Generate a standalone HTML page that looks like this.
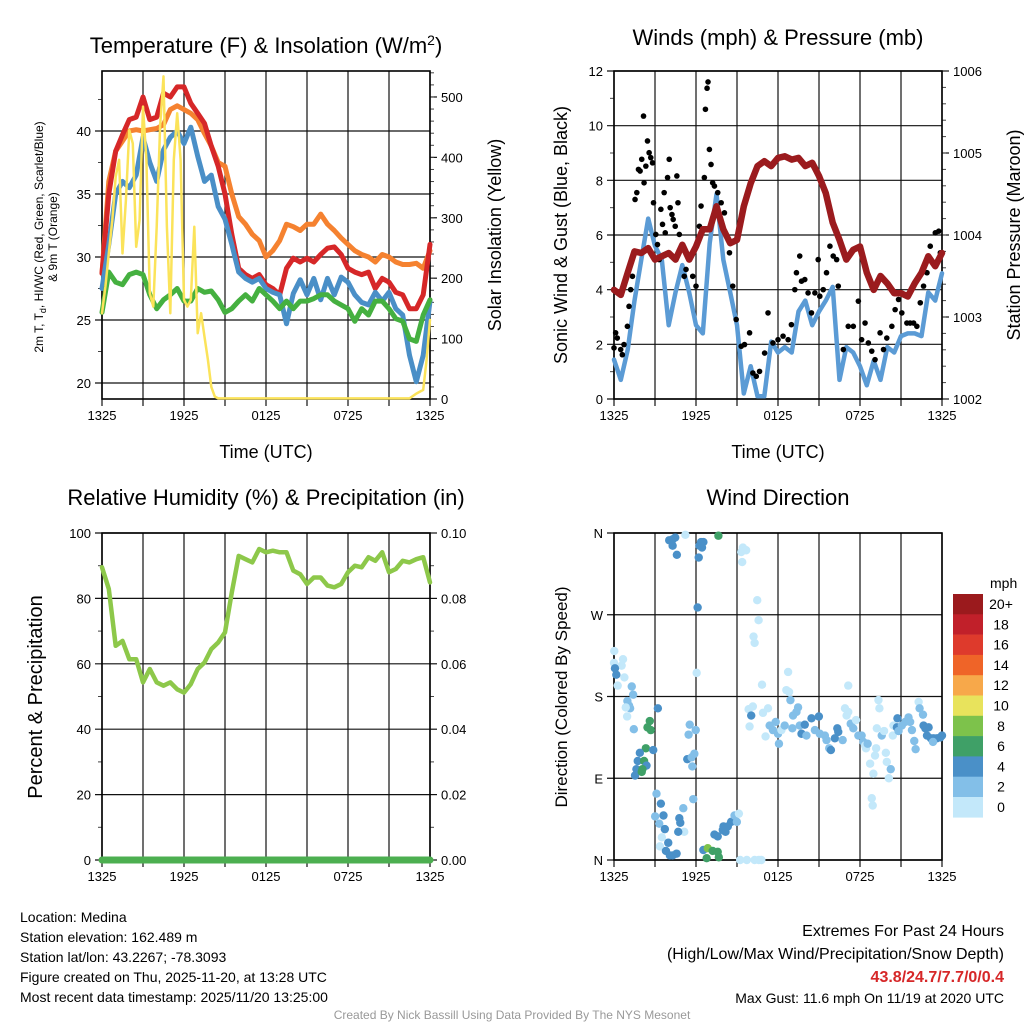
<!DOCTYPE html>
<html><head><meta charset="utf-8"><style>
html,body{margin:0;padding:0;background:#fff;}
svg{display:block;font-family:"Liberation Sans",sans-serif;}
</style></head><body>
<svg id="chart" width="1024" height="1024" viewBox="0 0 1024 1024" xmlns="http://www.w3.org/2000/svg">
<rect x="0" y="0" width="1024" height="1024" fill="#fff"/>
<g font-size="22" text-anchor="middle" fill="#000">
<text x="266" y="53">Temperature (F) &amp; Insolation (W/m<tspan dy="-8" font-size="14">2</tspan><tspan dy="8">)</tspan></text>
<text x="778" y="45">Winds (mph) &amp; Pressure (mb)</text>
<text x="266" y="505">Relative Humidity (%) &amp; Precipitation (in)</text>
<text x="778" y="505">Wind Direction</text>
</g>
<g font-size="18" text-anchor="middle">
<text x="266" y="458">Time (UTC)</text>
<text x="778" y="458">Time (UTC)</text>
<text transform="translate(43,237) rotate(-90)" font-size="12">2m T, T<tspan dy="3" font-size="9">d</tspan><tspan dy="-3">, HI/WC (Red, Green, Scarlet/Blue)</tspan></text>
<text transform="translate(57,237) rotate(-90)" font-size="12">&amp; 9m T (Orange)</text>
<text transform="translate(501,235) rotate(-90)">Solar Insolation (Yellow)</text>
<text transform="translate(567,235) rotate(-90)">Sonic Wind &amp; Gust (Blue, Black)</text>
<text transform="translate(1020,235) rotate(-90)">Station Pressure (Maroon)</text>
<text transform="translate(42,697) rotate(-90)" font-size="20">Percent &amp; Precipitation</text>
<text transform="translate(567,697) rotate(-90)" font-size="17">Direction (Colored By Speed)</text>
</g>
<g font-size="14" fill="#000">
<text x="20" y="922">Location: Medina</text>
<text x="20" y="942">Station elevation: 162.489 m</text>
<text x="20" y="962">Station lat/lon: 43.2267; -78.3093</text>
<text x="20" y="982">Figure created on Thu, 2025-11-20, at 13:28 UTC</text>
<text x="20" y="1002">Most recent data timestamp: 2025/11/20 13:25:00</text>
</g>
<g text-anchor="end">
<text x="1004" y="936" font-size="16">Extremes For Past 24 Hours</text>
<text x="1004" y="959" font-size="16">(High/Low/Max Wind/Precipitation/Snow Depth)</text>
<text x="1004" y="982" font-size="16" font-weight="bold" fill="#d62728">43.8/24.7/7.7/0/0.4</text>
<text x="1004" y="1003" font-size="14">Max Gust: 11.6 mph On 11/19 at 2020 UTC</text>
</g>
<text x="512" y="1019" font-size="12" fill="#999" text-anchor="middle">Created By Nick Bassill Using Data Provided By The NYS Mesonet</text>
<g id="layer"></g>
</svg>
<script>
// ---- data (time in hours since 13:25 UTC) ----
const xTickHours = [0, 6, 12, 18, 24];
const xTickLabels = ["1325", "1925", "0125", "0725", "1325"];
const halfHours = [0,0.5,1,1.5,2,2.5,3,3.5,4,4.5,5,5.5,6,6.5,7,7.5,8,8.5,9,9.5,10,10.5,11,11.5,12,12.5,13,13.5,14,14.5,15,15.5,16,16.5,17,17.5,18,18.5,19,19.5,20,20.5,21,21.5,22,22.5,23,23.5,24];
const tempRed = [28.7,35,38.4,39.7,40.9,41.1,42.7,40.9,41.1,43,42.7,43.5,43.5,42.2,41.4,40.6,38.8,37.2,35,31.8,29.1,28.6,28.3,28.6,27.8,27.5,27,29.1,29.9,29.6,29.9,29.6,30.2,30.7,30.8,30.2,29.1,28.8,28.6,28.8,27.5,28.3,28,27.2,27,25.9,25.9,27,31];
const temp9m = [28.7,36,38.4,39.2,40,40.1,40,40.1,40.2,40.5,41.7,42,41.7,41.4,40.9,39.8,38.8,37.5,37.2,35,33.2,32.6,31.8,31.3,30,30.5,31.3,32.6,32.4,32.1,32.6,32.6,33.4,32.6,32.1,31.5,31,30.5,30.2,30,29.6,30.2,30,29.6,29.4,29.4,29.5,29.1,30.5];
const heatIndex = [27.5,31,35,36,35.5,36.5,39.5,37.5,36,38.5,39.5,40,39,40.3,38,36,36.5,34,33,31,28.8,28.3,28,28.3,27.5,27.2,27,24.7,27.1,28.2,27,28.3,26.6,28.3,27,28.4,28,27,26.4,26.2,27.2,26.5,27.2,25.9,25.4,22.2,20.1,22.2,26.5];
const dewPoint = [25.6,28.8,28,27.8,28.6,28.8,28.6,27,25.9,26.6,27,27.5,26.5,26.5,27.5,27.2,27.3,26.6,25.6,25.9,26.5,27,26.5,27.5,27,26.5,25.9,26.5,25.9,26.5,26.5,26.7,27,27,26.5,26.2,25.9,24.9,25.9,25.4,26.5,26.5,25.9,25.1,24.9,23.5,23.3,25.4,26.6];
const solarHours = [0,0.25,0.5,0.75,1,1.25,1.5,1.75,2,2.25,2.5,2.75,3,3.25,3.5,3.75,4,4.25,4.5,4.75,5,5.25,5.5,5.75,6,6.25,6.5,6.75,7,7.25,7.5,7.75,8,8.25,8.5,22.5,23,23.5,23.75,24];
const solarWm2 = [142,186,241,296,368,396,241,329,445,423,252,296,484,396,175,153,285,451,534,285,142,396,473,396,164,153,164,285,109,142,103,65,20,4,1,1,9,15,65,131];
const windSpeed = [1.44,0.7,1.8,3.6,5.1,6.6,5.6,5.1,2.7,3.9,4.9,3.9,2.7,2.4,5.7,7.5,5.1,3.9,2.7,0.2,1.2,0.1,0.1,2.1,1.7,1.9,1.7,3.2,3.6,2.7,3.2,3.6,4.1,0.7,1.9,1.7,1.2,0.5,1.4,0.7,1.9,1.7,2.3,2.4,2.4,2.3,3.9,3.6,4.6];
const pressureMb = [1003.33,1003.27,1003.54,1003.8,1003.78,1003.84,1003.7,1003.74,1003.78,1003.7,1003.88,1003.7,1003.86,1004.07,1004.07,1004.35,1004.07,1003.9,1003.94,1004.35,1004.63,1004.84,1004.9,1004.84,1004.94,1004.96,1004.92,1004.94,1004.84,1004.88,1004.72,1004.51,1004.15,1003.94,1003.7,1003.82,1003.86,1003.54,1003.33,1003.5,1003.41,1003.29,1003.29,1003.25,1003.41,1003.54,1003.74,1003.62,1003.78];
const gustHours = [0,0.12,0.24,0.49,0.61,0.73,0.98,1.10,1.22,1.35,1.54,1.67,1.79,1.91,2.03,2.16,2.20,2.33,2.45,2.57,2.69,2.82,2.89,3.06,3.18,3.31,3.43,3.55,3.67,3.75,3.92,4.04,4.11,4.24,4.33,4.48,4.60,4.68,4.78,4.97,5.14,5.27,5.51,5.76,6.0,6.25,6.37,6.61,6.69,6.81,6.88,6.98,7.10,7.22,7.35,7.59,7.84,8.08,8.45,8.69,8.94,9.31,9.55,9.92,10.16,10.41,10.65,11.02,11.27,11.63,12.0,12.37,12.74,12.98,13.23,13.35,13.59,13.72,13.96,14.2,14.45,14.7,14.94,15.06,15.31,15.55,15.8,16.04,16.29,16.41,16.78,17.14,17.51,17.88,18.12,18.37,18.61,18.86,19.1,19.47,19.72,19.96,20.33,20.57,20.82,21.06,21.43,21.67,21.92,22.16,22.41,22.65,22.9,23.14,23.51,23.76,23.88];
const gustMph = [1.87,2.42,2.23,1.81,1.62,1.99,2.66,3.39,4.0,4.49,7.3,7.55,8.4,8.34,8.77,10.35,7.91,8.52,9.44,9.01,8.83,8.64,7.18,6.02,5.65,5.1,6.94,6.39,7.55,6.08,8.1,8.77,7.0,6.75,6.57,6.32,8.16,7.18,6.02,5.47,4.49,4.74,5.1,4.49,4.13,6.32,7.06,8.1,10.6,11.37,11.6,9.13,8.58,7.91,7.79,7.55,7.18,6.81,5.35,4.13,2.91,1.93,1.99,2.42,0.95,0.83,1.01,1.68,3.15,2.05,2.17,2.3,2.17,2.72,4.0,4.62,5.23,4.31,4.37,3.88,3.15,3.88,5.1,3.76,4.0,4.62,5.59,5.23,5.1,4.13,1.81,2.66,2.66,3.58,2.17,2.78,2.05,1.75,1.44,2.42,1.81,2.23,2.66,3.27,3.64,3.15,2.78,2.78,2.78,2.66,3.52,4.13,4.62,5.59,6.08,6.14,5.35];
const rhPercent = [89.5,82.9,65.5,67,61.4,61.4,54.3,58.4,54.3,53.3,54.3,52.2,51.2,53.8,58.4,60.4,64.5,66.5,69.6,81.8,93,92,91,95.1,94.1,94.6,94.1,94.1,88.5,87.4,84.4,86.4,86.4,83.9,83.4,84.4,88,90,89.5,92.6,91.5,94.1,88,89,91.5,91,92,92.6,84.9];
const precipIn = [0,0,0,0,0,0,0,0,0,0,0,0,0,0,0,0,0,0,0,0,0,0,0,0,0,0,0,0,0,0,0,0,0,0,0,0,0,0,0,0,0,0,0,0,0,0,0,0,0];
const dirHours = [4.04,4.29,4.48,4.29,4.60,5.22,6.25,6.37,6.54,6.44,6.20,7.64,9.43,9.67,9.31,9.38,6.12,10.48,10.58,10.21,10.29,6.05,10.83,12.74,12.61,12.81,12.91,0.02,0,0.66,0.56,0.07,0.17,0.76,0.27,1.30,1.40,0.98,1.10,1.18,0.86,0.96,1.45,3.21,2.62,2.45,2.69,2.33,1.89,2.87,1.74,2.20,2.38,1.64,1.54,2.03,2.08,5.54,5.98,5.46,5.36,5.68,5.88,5.73,3.11,3.43,5.80,5.07,3.62,3.01,4.78,4.85,3.31,3.72,5.14,4.70,3.50,3.97,3.36,3.80,4.09,4.58,4.29,6.54,6.86,7.22,7.59,7.67,6.78,7.35,7.59,7.96,8.16,8.01,8.33,8.57,8.82,9.14,8.99,9.23,9.72,10.29,10.60,10.78,9.85,10.16,10.04,9.92,10.90,11.27,11.09,11.39,11.63,11.83,12.0,12.07,12.25,12.49,13.05,13.10,13.47,13.35,13.59,13.96,13.72,14.08,14.45,14.70,14.99,15.06,15.43,15.55,15.75,15.87,16.16,16.34,16.41,16.73,16.90,17.14,17.02,17.32,17.14,17.51,17.71,17.88,18.12,18.25,18.44,18.37,18.56,18.74,18.98,18.86,18.93,19.23,19.35,19.42,19.18,19.10,19.59,19.76,19.89,19.96,20.25,20.11,20.45,20.40,20.74,20.70,20.82,21.06,21.31,21.55,21.67,21.80,21.97,22.07,22.29,22.36,22.61,22.65,22.78,23.02,22.90,23.19,23.39,23.63,23.88,24.0,23.34];
const dirDegrees = [352,353,355,346,336,358,346,350,350,344,333,357,344,341,339,328,278,286,264,246,239,206,193,207,187,185,176,230,217,221,214,211,204,201,192,191,182,175,170,167,168,158,144,167,153,146,143,123,118,121,109,109,104,100,93,97,100,149,143,138,111,113,117,103,73,62,67,57,49,48,46,41,40,34,31,31,25,19,15,10,5,7,5,11,13,10,9,3,2,28,26,33,31,37,37,42,49,51,42,0,0,0,0,0,166,169,159,147,162,167,136,148,143,152,139,128,143,148,145,159,168,163,148,149,139,137,156,143,158,139,137,132,123,121,134,145,141,132,167,163,159,150,192,145,154,137,137,130,123,126,128,106,95,68,60,145,176,167,123,115,137,142,118,108,100,90,148,137,156,146,142,148,152,157,152,143,131,122,174,167,160,148,145,146,137,134,134,134,135,137,130];
const dirSpeedMph = [5,5,5,5,5,1,5,5,5,5,5,7,1,1,1,1,5,1,1,1,1,1,1,1,1,1,3,1,1,1,1,5,5,1,1,3,3,3,3,3,1,1,3,5,7,7,7,7,5,5,5,7,5,5,5,7,7,3,3,3,5,3,3,3,3,5,3,3,5,3,5,5,3,5,1,5,1,5,1,5,5,5,5,5,9,7,7,7,7,5,5,5,5,5,5,5,3,1,3,1,1,1,1,1,1,1,5,1,1,1,1,3,3,3,3,3,1,3,3,3,3,3,3,5,5,3,5,3,5,3,3,3,3,5,5,5,5,3,1,1,1,3,1,3,1,3,3,3,1,1,3,1,1,1,1,1,1,1,1,1,3,1,1,1,3,1,1,1,5,5,3,3,3,3,3,3,3,3,1,3,3,5,5,5,5,5,5,5,5,5,3];
const speedBins = ["0","2","4","6","8","10","12","14","16","18","20+"];
const speedColors = ["#c3e8fa","#83bfe8","#4a90c8","#3fa067","#7dc24b","#e8e35c","#f7a84a","#ef6428","#de3a2c","#c1202a","#9b1a1d"];

// ---- drawing ----
const NS = "http://www.w3.org/2000/svg";
const layer = document.getElementById("layer");
function mk(tag, attrs, parent) {
  const el = document.createElementNS(NS, tag);
  for (const k in attrs) el.setAttribute(k, attrs[k]);
  (parent || layer).appendChild(el);
  return el;
}
function scale(d0, d1, r0, r1) { return v => r0 + (v - d0) * (r1 - r0) / (d1 - d0); }
const P1 = {x0:102, x1:430, y0:71, y1:399};
const P2 = {x0:614, x1:942, y0:71, y1:399};
const P3 = {x0:102, x1:430, y0:533, y1:860};
const P4 = {x0:614, x1:942, y0:533, y1:860};
function xs(P) { return scale(0, 24, P.x0, P.x1); }

function frame(P, name, yScale, yTicks, yMinor, yLabels, rScale, rTicks, rMinor, rLabels) {
  const g = mk("g", {});
  
  
  const x = xs(P);
  for (let h = 0; h <= 24; h += 3) {
    const l = mk("line", {x1:x(h), x2:x(h), y1:P.y0, y2:P.y1+7, stroke:"#111", "stroke-width":1.2}, g);
    
    
  }
  xTickHours.forEach((h, i) => {
    const t = mk("text", {x:x(h), y:P.y1+21, "font-size":13, "text-anchor":"middle"}, g);
    t.textContent = xTickLabels[i];
    
    
  });
  yTicks.forEach((v, i) => {
    const y = yScale(v);
    const l = mk("line", {x1:P.x0-7, x2:P.x1, y1:y, y2:y, stroke:"#111", "stroke-width":1.2}, g);
    
    
    const t = mk("text", {x:P.x0-11, y:y+5, "font-size":13, "text-anchor":"end"}, g);
    t.textContent = yLabels[i];
    
    
  });
  yMinor.forEach(v => {
    const y = yScale(v);
    const l = mk("line", {x1:P.x0-4, x2:P.x0, y1:y, y2:y, stroke:"#444", "stroke-width":1}, g);
    
    
  });
  if (rScale) {
    rTicks.forEach((v, i) => {
      const y = rScale(v);
      const l = mk("line", {x1:P.x1, x2:P.x1+7, y1:y, y2:y, stroke:"#111", "stroke-width":1.2}, g);
      
      
      const t = mk("text", {x:P.x1+11, y:y+5, "font-size":13}, g);
      t.textContent = rLabels[i];
      
      
    });
    rMinor.forEach(v => {
      const y = rScale(v);
      const l = mk("line", {x1:P.x1, x2:P.x1+4, y1:y, y2:y, stroke:"#444", "stroke-width":1}, g);
      
      
    });
  }
  const b = mk("rect", {x:P.x0, y:P.y0, width:P.x1-P.x0, height:P.y1-P.y0, fill:"none", stroke:"#000", "stroke-width":1.6}, g);
  
  
}
function range(a, b, s) { const r = []; for (let v = a; v <= b + 1e-9; v += s) r.push(+v.toFixed(4)); return r; }
function line(P, hours, vals, yScale, color, w, name) {
  const x = xs(P);
  const d = hours.map((h, i) => (i ? "L" : "M") + x(h).toFixed(1) + "," + yScale(vals[i]).toFixed(1)).join("");
  const p = mk("path", {d:d, fill:"none", stroke:color, "stroke-width":w, "stroke-linejoin":"round", "stroke-linecap":"round"});
  
  
  return p;
}

// Panel 1
const tY = scale(18.73, 44.76, P1.y1, P1.y0);
const sY = scale(0, 543, P1.y1, P1.y0);
frame(P1, "temperature", tY, [20,25,30,35,40], range(22.5,42.5,5), ["20","25","30","35","40"], sY, [0,100,200,300,400,500], range(20,540,20), ["0","100","200","300","400","500"]);
line(P1, halfHours, temp9m, tY, "#f58230", 5, "nine-meter-temperature-line");
line(P1, halfHours, tempRed, tY, "#d62728", 5, "two-meter-temperature-line");
line(P1, halfHours, heatIndex, tY, "#4a8fc7", 5, "heat-index-wind-chill-line");
line(P1, halfHours, dewPoint, tY, "#45b040", 5, "dew-point-line");
line(P1, solarHours, solarWm2, sY, "#fbe35a", 2.5, "solar-insolation-line");

// Panel 2
const wY = scale(0, 12, P2.y1, P2.y0);
const pY = scale(1002, 1006, P2.y1, P2.y0);
frame(P2, "winds", wY, [0,2,4,6,8,10,12], range(1,11,2), ["0","2","4","6","8","10","12"], pY, [1002,1003,1004,1005,1006], range(1002.2,1005.8,0.2), ["1002","1003","1004","1005","1006"]);
line(P2, halfHours, windSpeed, wY, "#5b9bd5", 4.5, "sonic-wind-speed-line");
const x2 = xs(P2);
gustHours.forEach((h, i) => {
  const c = mk("circle", {cx:x2(h), cy:wY(gustMph[i]), r:2.8, fill:"#000"});
  
  
});
line(P2, halfHours, pressureMb, pY, "#9b1b1e", 6.5, "station-pressure-line");

// Panel 3
const rY = scale(0, 100, P3.y1, P3.y0);
const prY = scale(0, 0.1, P3.y1, P3.y0);
frame(P3, "humidity", rY, [0,20,40,60,80,100], range(10,90,20), ["0","20","40","60","80","100"], prY, [0,0.02,0.04,0.06,0.08,0.1], range(0.01,0.09,0.02), ["0.00","0.02","0.04","0.06","0.08","0.10"]);
line(P3, halfHours, rhPercent, rY, "#8dc84a", 4.5, "relative-humidity-line");
line(P3, halfHours, precipIn, prY, "#4caf50", 7, "precipitation-line");

// Panel 4
const dY = scale(0, 360, P4.y1, P4.y0);
frame(P4, "wind-direction", dY, [0,90,180,270,360], [], ["N","E","S","W","N"], null);
const x4 = xs(P4);
dirHours.forEach((h, i) => {
  const bin = Math.min(10, Math.floor((dirSpeedMph[i] || 0) / 2));
  const c = mk("circle", {cx:x4(h), cy:dY(dirDegrees[i]), r:4.2, fill:speedColors[bin]});
  
  
});

// Legend
const lg = mk("g", {});


const lt = mk("text", {x:990, y:588, "font-size":14}, lg);
lt.textContent = "mph";


for (let k = 0; k < speedColors.length; k++) {
  const idx = speedColors.length - 1 - k;
  const y = 594 + k * 20.3;
  const r = mk("rect", {x:953, y:y, width:30, height:20.6, fill:speedColors[idx]}, lg);
  
  
  const t = mk("text", {x:1001, y:y+15, "font-size":14, "text-anchor":"middle"}, lg);
  t.textContent = speedBins[idx];
  
  
}
</script>
</body></html>
